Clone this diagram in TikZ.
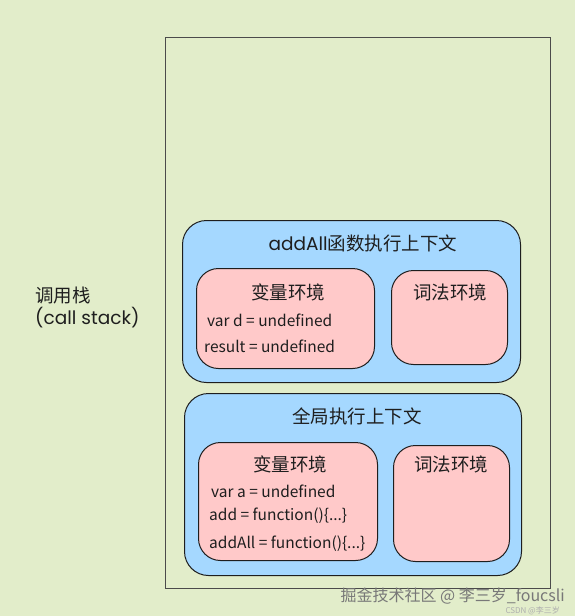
\documentclass[tikz,border=0pt]{standalone}
\usepackage{fontspec}
\setmainfont{Noto Sans CJK SC}
\newfontfamily\handfont{Poppins}
\definecolor{bggreen}{RGB}{226,237,202}
\definecolor{ctxblue}{RGB}{165,216,255}
\definecolor{envpink}{RGB}{255,201,201}
\definecolor{edgegray}{RGB}{30,30,30}
\definecolor{markgray}{RGB}{120,120,120}

\begin{document}
\begin{tikzpicture}[
        x=1pt, y=-1pt,
        stackbox/.style={rectangle, draw=edgegray!80, line width=1.2pt, anchor=north west, inner sep=0pt},
        ctx/.style={rectangle, rounded corners=24pt, draw=edgegray, fill=ctxblue, line width=1pt, anchor=north west, inner sep=0pt},
        env/.style={rectangle, rounded corners=22pt, draw=edgegray, fill=envpink, line width=1pt, anchor=north west, inner sep=0pt},
        title/.style={font=\fontsize{18.5}{20}\selectfont, text=edgegray, inner sep=0pt},
        entry/.style={font=\fontsize{15.5}{18}\selectfont, text=edgegray, anchor=west, inner sep=0pt},
        wmark/.style={text=markgray, inner sep=0pt}
    ]
        \fill[bggreen] (0,0) rectangle (575,616);

        % call stack frame
        \node[stackbox, minimum width=385pt, minimum height=551pt] (stack) at (165,37) {};
        \node[title, anchor=west] (stacklabel) at (35,296) {调用栈};
        \node[title, anchor=west] (stacklabel2) at (35,318) {\handfont (call stack)};

        % addAll context
        \node[ctx, minimum width=338pt, minimum height=162pt] (addctx) at (182,220) {};
        \node[title] (addtitle) at (363,243) {{\handfont addAll}函数执行上下文};
        \node[env, minimum width=178pt, minimum height=100pt] (addvar) at (196,268) {};
        \node[title] (addvartitle) at (288,292) {变量环境};
        \node[entry] (addvar1) at (207,320) {var d = undefined};
        \node[entry] (addvar2) at (204,346) {result = undefined};
        \node[env, minimum width=116pt, minimum height=94pt] (addlex) at (391,270) {};
        \node[title] (addlextitle) at (450,292) {词法环境};

        % global context
        \node[ctx, minimum width=337pt, minimum height=182pt] (globctx) at (184,393) {};
        \node[title] (globtitle) at (357,416) {全局执行上下文};
        \node[env, minimum width=179pt, minimum height=118pt] (globvar) at (198,442) {};
        \node[title] (globvartitle) at (290,464) {变量环境};
        \node[entry] (globvar1) at (211,491) {var a = undefined};
        \node[entry] (globvar2) at (209,516) {add = function()\{...\}};
        \node[entry] (globvar3) at (209,544) {addAll = function()\{...\}};
        \node[env, minimum width=116pt, minimum height=116pt] (globlex) at (393,445) {};
        \node[title] (globlextitle) at (451,464) {词法环境};

        % watermarks
        \node[wmark, anchor=east, font=\fontsize{16}{18}\selectfont] (wm1) at (565,596) {掘金技术社区 @ 李三岁\_foucsli};
        \node[wmark, anchor=east, text=markgray!60, font=\fontsize{8}{10}\selectfont] (wm2) at (560,610.5) {CSDN @李三岁};
    \end{tikzpicture}
\end{document}
